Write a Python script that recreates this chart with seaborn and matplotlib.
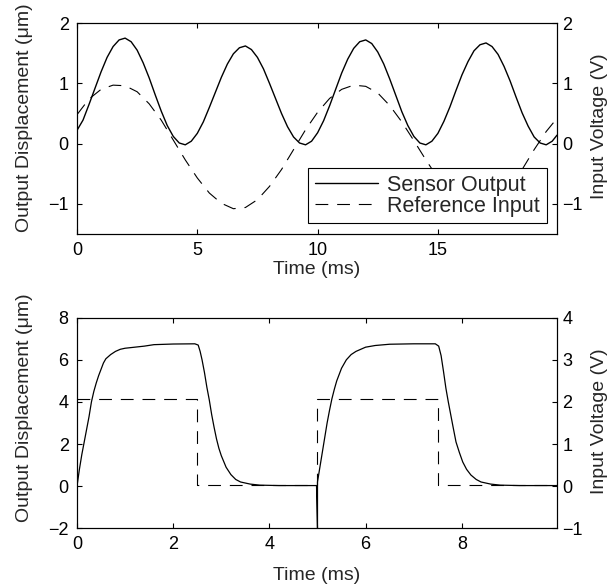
import matplotlib
matplotlib.use("Agg")
import matplotlib.pyplot as plt
import seaborn as sns
import pandas as pd

# ---------------- data: top panel (sinusoidal drive) ----------------
t_top_sensor = [0.0, 0.25, 0.5, 0.75, 1.0, 1.25, 1.5, 1.75, 2.0, 2.25, 2.5, 2.75, 3.0, 3.25,
                3.5, 3.75, 4.0, 4.25, 4.5, 4.75, 5.0, 5.25, 5.5, 5.75, 6.0, 6.25, 6.5, 6.75,
                7.0, 7.25, 7.5, 7.75, 8.0, 8.25, 8.5, 8.75, 9.0, 9.25, 9.5, 9.75, 10.0, 10.25,
                10.5, 10.75, 11.0, 11.25, 11.5, 11.75, 12.0, 12.25, 12.5, 12.75, 13.0, 13.25,
                13.5, 13.75, 14.0, 14.25, 14.5, 14.75, 15.0, 15.25, 15.5, 15.75, 16.0, 16.25,
                16.5, 16.75, 17.0, 17.25, 17.5, 17.75, 18.0, 18.25, 18.5, 18.75, 19.0, 19.25,
                19.5, 19.75, 19.95]
sensor_top = [0.22, 0.39, 0.65, 0.92, 1.19, 1.43, 1.61, 1.72, 1.75, 1.69, 1.55, 1.34, 1.09, 0.81,
              0.54, 0.30, 0.12, 0.01, -0.02, 0.04, 0.17, 0.36, 0.60, 0.85, 1.10, 1.32, 1.49, 1.59,
              1.62, 1.56, 1.43, 1.24, 1.00, 0.75, 0.50, 0.28, 0.11, 0.01, -0.02, 0.04, 0.18, 0.38,
              0.63, 0.90, 1.17, 1.40, 1.58, 1.69, 1.72, 1.66, 1.52, 1.32, 1.07, 0.80,
              0.53, 0.30, 0.12, 0.01, -0.02, 0.04, 0.17, 0.37, 0.61, 0.88, 1.14, 1.36,
              1.54, 1.64, 1.67, 1.61, 1.48, 1.28, 1.04, 0.77, 0.51, 0.29, 0.11, 0.01,
              -0.02, 0.04, 0.14]

t_top_ref = [0.0, 0.5, 1.0, 1.5, 2.0, 2.5, 3.0, 3.5, 4.0, 4.5, 5.0, 5.5, 6.0, 6.5, 7.0, 7.5,
             8.0, 8.5, 9.0, 9.5, 10.0, 10.5, 11.0, 11.5, 12.0, 12.5, 13.0, 13.5, 14.0, 14.5,
             15.0, 15.5, 16.0, 16.5, 17.0, 17.5, 18.0, 18.5, 19.0, 19.5, 19.95]
ref_top = [0.48, 0.74, 0.90, 0.97, 0.96, 0.86, 0.66, 0.39, 0.06, -0.27, -0.57, -0.82, -0.99,
           -1.08, -1.06, -0.93, -0.71, -0.43, -0.10, 0.23, 0.52, 0.75, 0.90, 0.97, 0.95, 0.84,
           0.63, 0.36, 0.05, -0.27, -0.57, -0.82, -0.99, -1.08, -1.06, -0.93, -0.71, -0.43,
           -0.10, 0.20, 0.42]

# ---------------- data: bottom panel (square-wave drive) ----------------
t_bot_sensor = [0.0, 0.0, 0.05, 0.1, 0.15, 0.2, 0.25, 0.3, 0.35, 0.4, 0.45, 0.5, 0.55, 0.6,
                0.7, 0.8, 0.9, 1.0, 1.2, 1.4, 1.6, 2.0, 2.45, 2.52, 2.56, 2.6, 2.65, 2.7,
                2.75, 2.8, 2.85, 2.9, 2.95, 3.0, 3.1, 3.2, 3.3, 3.4, 3.6, 3.8, 4.2, 4.98,
                5.0, 5.0, 5.05, 5.1, 5.15, 5.2, 5.25, 5.3, 5.35, 5.4, 5.45, 5.5, 5.6, 5.7,
                5.8, 5.9, 6.0, 6.2, 6.5, 7.0, 7.45, 7.52, 7.57, 7.62, 7.67, 7.72, 7.77, 7.82,
                7.88, 7.95, 8.02, 8.1, 8.19, 8.3, 8.4, 8.6, 8.8, 9.2, 9.98]
sensor_bot = [-2.0, 0.0, 0.8, 1.5, 2.1, 2.7, 3.3, 4.0, 4.5, 4.9, 5.25, 5.55, 5.85, 6.05,
              6.25, 6.4, 6.5, 6.55, 6.6, 6.65, 6.72, 6.75, 6.76, 6.7, 6.4, 6.0, 5.4, 4.7,
              4.1, 3.4, 2.8, 2.25, 1.8, 1.45, 0.9, 0.55, 0.32, 0.2, 0.1, 0.05, 0.03, 0.03,
              -2.0, 0.2, 0.9, 1.6, 2.3, 3.0, 3.6, 4.15, 4.6, 5.0, 5.3, 5.6, 6.0, 6.25,
              6.4, 6.5, 6.6, 6.68, 6.74, 6.76, 6.76, 6.65, 6.2, 5.45, 4.65, 4.0, 3.4, 2.8,
              2.1, 1.6, 1.15, 0.8, 0.53, 0.32, 0.2, 0.1, 0.05, 0.03, 0.03]

t_bot_ref = [0.0, 2.5, 2.5, 5.0, 5.0, 7.5, 7.5, 9.98]
ref_bot = [2.06, 2.06, 0.02, 0.02, 2.06, 2.06, 0.02, 0.02]

legend_labels = ["Sensor Output", "Reference Input"]

# ---------------- style ----------------
FS = 14        # axis labels
FS_L = 15.5    # legend
FS_T = 13      # tick labels
sns.set_style("white")
plt.rcParams["font.family"] = ["Liberation Sans", "DejaVu Sans"]
plt.rcParams["font.size"] = FS
plt.rcParams["axes.edgecolor"] = "black"
plt.rcParams["axes.linewidth"] = 0.8
for k in ("xtick", "ytick"):
    plt.rcParams[f"{k}.direction"] = "in"
    plt.rcParams[f"{k}.major.size"] = 3.5
    plt.rcParams[f"{k}.major.width"] = 0.8
    plt.rcParams[f"{k}.color"] = "black"
    plt.rcParams[f"{k}.labelsize"] = FS_T

DASH = (0, (11.5, 8))

fig = plt.figure(figsize=(6.15, 5.88), dpi=100)
ax1 = fig.add_axes([0.1252, 0.602, 0.7805, 0.3588])
ax1r = ax1.twinx()
ax2 = fig.add_axes([0.1252, 0.1015, 0.7805, 0.3582])
ax2r = ax2.twinx()

common = dict(color="black", estimator=None, sort=False, errorbar=None, legend=False)

sns.lineplot(x=t_top_sensor, y=sensor_top, ax=ax1, lw=1.0, **common)
sns.lineplot(x=t_top_ref, y=ref_top, ax=ax1r, lw=0.8, linestyle=DASH, **common)
sns.lineplot(x=t_bot_sensor, y=sensor_bot, ax=ax2, lw=0.9, **common)
sns.lineplot(x=t_bot_ref, y=ref_bot, ax=ax2r, lw=0.8, linestyle=DASH, **common)

# top panel axes
ax1.set_xlim(0, 19.95)
ax1.set_ylim(-1.5, 2)
ax1r.set_ylim(-1.5, 2)
ax1.set_xticks([0, 5, 10, 15])
ax1.set_yticks([-1, 0, 1, 2])
ax1r.set_yticks([-1, 0, 1, 2])

# bottom panel axes
ax2.set_xlim(0, 9.98)
ax2.set_ylim(-2, 8)
ax2r.set_ylim(-1, 4)
ax2.set_xticks([0, 2, 4, 6, 8])
ax2.set_yticks([-2, 0, 2, 4, 6, 8])
ax2r.set_yticks([-1, 0, 1, 2, 3, 4])

for a, lp in ((ax1, 2), (ax2, 10)):
    a.tick_params(axis="x", top=True, bottom=True, direction="in", pad=5.5)
    a.tick_params(axis="y", left=True, right=False, direction="in", pad=6.0)
    a.set_xlabel("Time (ms)", fontsize=FS, labelpad=lp)
    a.set_ylabel("Output Displacement (μm)", fontsize=FS)
for a in (ax1r, ax2r):
    a.tick_params(axis="y", right=True, left=False, direction="in", pad=4.0)
    a.set_ylabel("Input Voltage (V)", fontsize=FS)
    a.grid(False)
for a in (ax1, ax2, ax1r, ax2r):
    for s in a.spines.values():
        s.set_visible(True)
        s.set_color("black")
        s.set_linewidth(0.8)

ax1.yaxis.set_label_coords(-0.092, 0.552)
ax2.yaxis.set_label_coords(-0.092, 0.571)
ax1r.yaxis.set_label_coords(1.071, 0.51)
ax2r.yaxis.set_label_coords(1.071, 0.51)

h1 = ax1.lines[0]
h2 = ax1r.lines[0]
leg = ax1r.legend([h1, h2], legend_labels, loc="lower right",
                  bbox_to_anchor=(0.9785, 0.0507), borderaxespad=0,
                  fontsize=FS_L, handlelength=2.93, handletextpad=0.45,
                  borderpad=0.3, labelspacing=0.0, fancybox=False,
                  framealpha=1, edgecolor="black")
leg.get_frame().set_linewidth(0.8)

fig.savefig("out.png", dpi=100)
